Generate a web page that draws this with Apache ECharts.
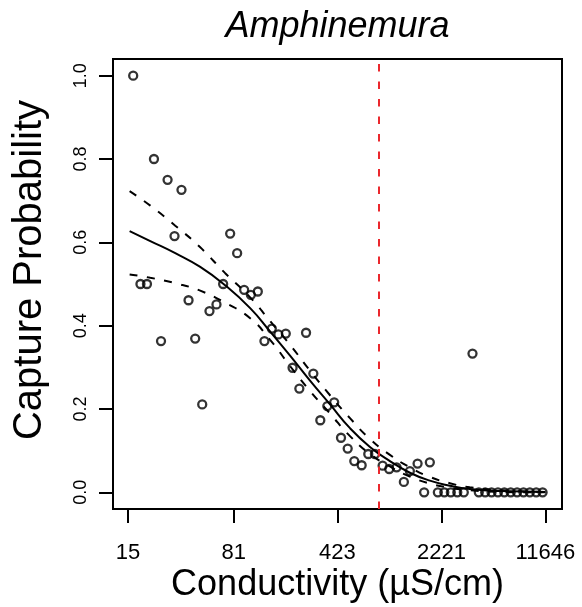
<!DOCTYPE html>
<html>
<head>
<meta charset="utf-8">
<script src="https://cdn.jsdelivr.net/npm/echarts@6/dist/echarts.min.js"></script>
<style>
html,body{margin:0;padding:0;background:#fff;}
#chart{width:582px;height:607px;}
</style>
</head>
<body>
<div id="chart"></div>
<script>
// ---- data ----
const titleText = 'Amphinemura';
const xTitle = 'Conductivity (\u00B5S/cm)';
const yTitle = 'Capture Probability';

const xTickLabels = [15, 81, 423, 2221, 11646];
const yTickValues = [0, 0.2, 0.4, 0.6, 0.8, 1.0];
const xDataRange = [15.4, 11646];

const conductivity = [16.3, 18.3, 20.3, 22.7, 25.4, 28.2, 31.5, 35.2, 39.4, 43.8,
  49.0, 55.0, 61.5, 68.4, 76.5, 85.5, 95.6, 106.4, 118.9, 132.1,
  148.6, 165.0, 185.7, 206.9, 230.5, 256.5, 288.1, 322.0, 360.0, 401.8,
  447.8, 498.2, 553.4, 622.6, 691.6, 769.3, 869.6, 965.9, 1086.6, 1220,
  1342.7, 1518, 1846, 1686, 2097, 2325, 2579, 2860, 3172, 3644,
  4029, 4460, 4937, 5467, 6052, 6701, 7418, 8213, 9092, 10066, 11144];
const captureProb = [1.0, 0.5, 0.5, 0.8, 0.363, 0.75, 0.615, 0.726, 0.461, 0.369,
  0.211, 0.435, 0.451, 0.5, 0.621, 0.574, 0.486, 0.474, 0.482, 0.363,
  0.393, 0.379, 0.381, 0.299, 0.249, 0.383, 0.285, 0.173, 0.207, 0.216,
  0.131, 0.105, 0.075, 0.065, 0.092, 0.092, 0.064, 0.056, 0.060, 0.025,
  0.051, 0.069, 0.072, 0, 0, 0, 0, 0, 0, 0.333,
  0, 0, 0, 0, 0, 0, 0, 0, 0, 0, 0];

const curveConductivity = [15.4, 21.41, 31.88, 47.46, 70.66, 105.2, 144.6, 198.8, 273.3, 375.8,
  516.7, 710.5, 976.8, 1342.7, 1846, 2538, 3490, 5626, 11646];
const fittedProb = [0.627, 0.603, 0.574, 0.541, 0.497, 0.442, 0.386, 0.328, 0.268, 0.211,
  0.154, 0.109, 0.075, 0.047, 0.028, 0.016, 0.008, 0.003, 0.001];
const upperProb = [0.723, 0.688, 0.640, 0.588, 0.526, 0.468, 0.411, 0.354, 0.292, 0.233,
  0.178, 0.128, 0.090, 0.060, 0.037, 0.022, 0.012, 0.005, 0.001];
const lowerProb = [0.523, 0.515, 0.502, 0.484, 0.455, 0.418, 0.366, 0.303, 0.243, 0.189,
  0.135, 0.092, 0.062, 0.038, 0.021, 0.011, 0.005, 0.001, 0.000];

const threshold = 811;

// ---- build ----
const FONT = 'Liberation Sans, Arial, Helvetica, sans-serif';
const lnMin = Math.log(xDataRange[0]), lnMax = Math.log(xDataRange[1]);
const ext = 0.04 * (lnMax - lnMin);
const xMin = lnMin - ext, xMax = lnMax + ext;
const xTickPos = xTickLabels.map(v => Math.log(v));

const pts = conductivity.map((c, i) => [Math.log(c), captureProb[i]]);
const curve = arr => curveConductivity.map((c, i) => [Math.log(c), arr[i]]);

const chart = echarts.init(document.getElementById('chart'), null, {renderer: 'canvas'});
chart.setOption({
  animation: false,
  backgroundColor: '#fff',
  textStyle: {fontFamily: FONT},
  grid: {left: 113, right: 20, top: 59, bottom: 98, show: true,
         borderColor: '#000', borderWidth: 2, backgroundColor: 'transparent'},
  xAxis: {
    type: 'value', min: xMin, max: xMax,
    axisLine: {show: true, onZero: false, lineStyle: {color: '#000', width: 2}},
    axisTick: {show: true, customValues: xTickPos, length: 14, lineStyle: {color: '#000', width: 2}},
    axisLabel: {show: true, customValues: xTickPos, margin: 33, fontSize: 22, color: '#000', fontFamily: FONT,
      formatter: v => {
        let best = 0;
        xTickPos.forEach((p, i) => { if (Math.abs(p - v) < Math.abs(xTickPos[best] - v)) best = i; });
        return String(xTickLabels[best]);
      }},
    splitLine: {show: false}
  },
  yAxis: {
    type: 'value', min: -0.04, max: 1.04,
    axisLine: {show: true, onZero: false, lineStyle: {color: '#000', width: 2}},
    axisTick: {show: true, customValues: yTickValues, length: 14, lineStyle: {color: '#000', width: 2}},
    axisLabel: {show: true, customValues: yTickValues, rotate: 90, margin: 23, fontSize: 18, color: '#000',
      fontFamily: FONT, formatter: v => v.toFixed(1)},
    splitLine: {show: false}
  },
  graphic: [
    {type: 'text', x: 337.5, y: 27, style: {text: titleText, fontSize: 36, fontStyle: 'italic',
      fontFamily: FONT, fill: '#000', align: 'center', verticalAlign: 'middle'}},
    {type: 'text', x: 337.5, y: 585, style: {text: xTitle, fontSize: 36,
      fontFamily: FONT, fill: '#000', align: 'center', verticalAlign: 'middle'}},
    {type: 'text', x: 30, y: 270, rotation: Math.PI / 2, style: {text: yTitle, fontSize: 40,
      fontFamily: FONT, fill: '#000', align: 'center', verticalAlign: 'middle'}}
  ],
  series: [
    {type: 'line', data: curve(fittedProb), showSymbol: false, smooth: 0.5, silent: true,
     lineStyle: {color: '#000', width: 2}, z: 3,
     markLine: {silent: true, symbol: ['none', 'none'], label: {show: false},
       lineStyle: {color: 'rgb(235,40,45)', width: 2, type: [7.5, 10]},
       data: [{xAxis: Math.log(threshold)}]}},
    {type: 'line', data: curve(upperProb), showSymbol: false, smooth: 0.5, silent: true,
     lineStyle: {color: '#000', width: 2, type: [8, 9.5]}, z: 3},
    {type: 'line', data: curve(lowerProb), showSymbol: false, smooth: 0.5, silent: true,
     lineStyle: {color: '#000', width: 2, type: [8, 9.5]}, z: 3},
    {type: 'scatter', data: pts, symbol: 'circle', symbolSize: 8, silent: true,
     itemStyle: {color: 'rgba(0,0,0,0)', borderColor: '#000', borderWidth: 2.3}, z: 4}
  ]
});
</script>
</body>
</html>
